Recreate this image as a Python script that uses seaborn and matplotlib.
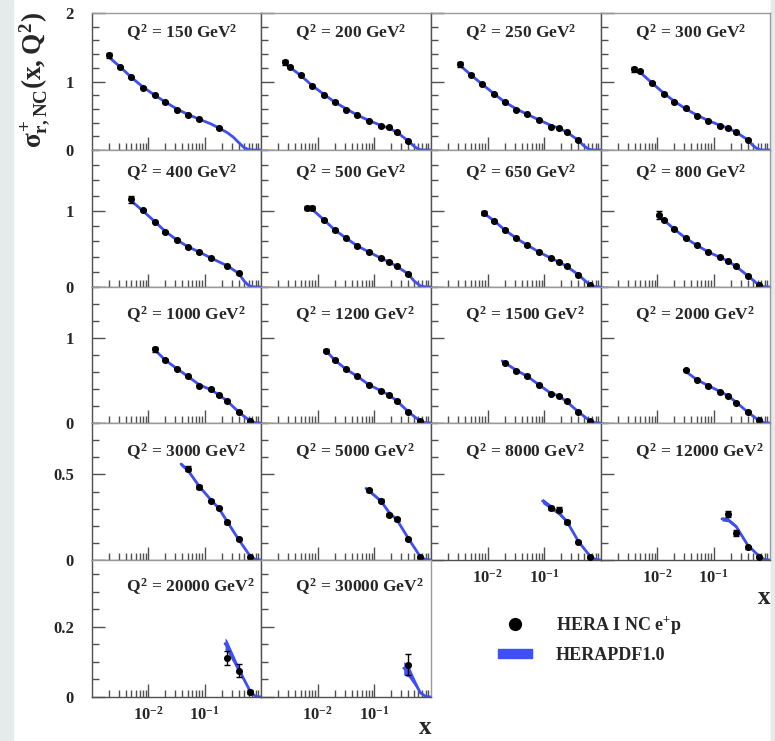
import numpy as np
import matplotlib
matplotlib.use("Agg")
import matplotlib.pyplot as plt
from matplotlib.ticker import FixedLocator, LogLocator, MultipleLocator, NullFormatter, FuncFormatter
from matplotlib.lines import Line2D
from matplotlib.patches import Patch, Rectangle
import seaborn as sns

# ---- data (one entry per panel) ----
q2_values = [150, 200, 250, 300, 400, 500, 650, 800, 1000, 1200, 1500, 2000,
             3000, 5000, 8000, 12000, 20000, 30000]

x_data = [
    [0.002, 0.0032, 0.005, 0.008, 0.013, 0.02, 0.032, 0.05, 0.08, 0.18],
    [0.0026, 0.0032, 0.005, 0.008, 0.013, 0.02, 0.032, 0.05, 0.08, 0.13, 0.18, 0.25, 0.40],
    [0.0032, 0.005, 0.008, 0.013, 0.02, 0.032, 0.05, 0.08, 0.13, 0.18, 0.25, 0.40],
    [0.0039, 0.0049, 0.008, 0.013, 0.02, 0.032, 0.05, 0.08, 0.13, 0.18, 0.25, 0.40],
    [0.005, 0.008, 0.013, 0.02, 0.032, 0.05, 0.08, 0.13, 0.25, 0.40],
    [0.0066, 0.008, 0.013, 0.02, 0.032, 0.05, 0.08, 0.13, 0.18, 0.25, 0.40],
    [0.0085, 0.013, 0.02, 0.032, 0.05, 0.08, 0.13, 0.18, 0.25, 0.40, 0.65],
    [0.0105, 0.013, 0.02, 0.032, 0.05, 0.08, 0.13, 0.18, 0.25, 0.40, 0.65],
    [0.013, 0.02, 0.032, 0.05, 0.08, 0.13, 0.18, 0.25, 0.40, 0.65],
    [0.014, 0.02, 0.032, 0.05, 0.08, 0.13, 0.18, 0.25, 0.40, 0.65],
    [0.02, 0.032, 0.05, 0.08, 0.13, 0.18, 0.25, 0.40, 0.65],
    [0.032, 0.05, 0.08, 0.13, 0.18, 0.25, 0.40, 0.65],
    [0.05, 0.08, 0.13, 0.18, 0.25, 0.40, 0.65],
    [0.08, 0.13, 0.18, 0.25, 0.40, 0.65],
    [0.13, 0.18, 0.25, 0.40, 0.65],
    [0.18, 0.25, 0.40, 0.65],
    [0.25, 0.40, 0.65],
    [0.40],
]

sigma_data = [
    [1.38, 1.21, 1.06, 0.91, 0.81, 0.70, 0.59, 0.51, 0.45, 0.32],
    [1.28, 1.21, 1.10, 0.94, 0.80, 0.70, 0.59, 0.51, 0.43, 0.35, 0.33, 0.26, 0.13],
    [1.25, 1.10, 0.96, 0.82, 0.70, 0.59, 0.52, 0.44, 0.34, 0.32, 0.26, 0.14],
    [1.18, 1.15, 0.98, 0.82, 0.70, 0.61, 0.50, 0.43, 0.35, 0.32, 0.26, 0.15],
    [1.15, 1.01, 0.86, 0.72, 0.62, 0.52, 0.46, 0.38, 0.28, 0.18],
    [1.04, 1.04, 0.88, 0.75, 0.64, 0.54, 0.46, 0.38, 0.33, 0.27, 0.17],
    [0.97, 0.87, 0.75, 0.64, 0.55, 0.46, 0.38, 0.33, 0.27, 0.16, 0.02],
    [0.95, 0.88, 0.76, 0.64, 0.55, 0.46, 0.40, 0.34, 0.27, 0.15, 0.02],
    [0.87, 0.74, 0.64, 0.55, 0.44, 0.40, 0.33, 0.26, 0.13, 0.02],
    [0.85, 0.74, 0.63, 0.55, 0.45, 0.38, 0.33, 0.26, 0.13, 0.02],
    [0.71, 0.61, 0.55, 0.45, 0.345, 0.32, 0.255, 0.13, 0.02],
    [0.62, 0.51, 0.435, 0.37, 0.32, 0.24, 0.13, 0.03],
    [0.533, 0.427, 0.345, 0.304, 0.22, 0.124, 0.02],
    [0.406, 0.347, 0.265, 0.237, 0.124, 0.016],
    [0.304, 0.294, 0.22, 0.104, 0.02],
    [0.269, 0.157, 0.075, 0.02],
    [0.111, 0.075, 0.015],
    [0.092],
]

sigma_err = [
    [0.04, 0.015, 0.01, 0.01, 0.01, 0.01, 0.008, 0.008, 0.008, 0.01],
    [0.04, 0.02, 0.012, 0.01, 0.01, 0.01, 0.008, 0.008, 0.008, 0.008, 0.008, 0.008, 0.008],
    [0.035, 0.012, 0.01, 0.01, 0.01, 0.008, 0.008, 0.008, 0.008, 0.008, 0.008, 0.008],
    [0.035, 0.015, 0.01, 0.01, 0.01, 0.008, 0.008, 0.008, 0.008, 0.008, 0.008, 0.008],
    [0.04, 0.012, 0.01, 0.01, 0.01, 0.008, 0.008, 0.008, 0.008, 0.008],
    [0.03, 0.03, 0.01, 0.01, 0.01, 0.008, 0.008, 0.008, 0.008, 0.008, 0.008],
    [0.025, 0.01, 0.01, 0.01, 0.008, 0.008, 0.008, 0.008, 0.008, 0.008, 0.005],
    [0.05, 0.015, 0.01, 0.01, 0.008, 0.008, 0.008, 0.008, 0.008, 0.008, 0.005],
    [0.03, 0.01, 0.01, 0.01, 0.008, 0.008, 0.008, 0.008, 0.008, 0.005],
    [0.015, 0.01, 0.01, 0.01, 0.008, 0.008, 0.008, 0.008, 0.008, 0.005],
    [0.012, 0.01, 0.01, 0.008, 0.008, 0.008, 0.008, 0.008, 0.005],
    [0.01, 0.008, 0.008, 0.008, 0.008, 0.008, 0.008, 0.005],
    [0.014, 0.012, 0.008, 0.008, 0.008, 0.006, 0.004],
    [0.01, 0.01, 0.008, 0.008, 0.006, 0.004],
    [0.012, 0.014, 0.012, 0.006, 0.004],
    [0.02, 0.016, 0.008, 0.004],
    [0.02, 0.018, 0.006],
    [0.03],
]

x_theory = [
    [0.0019, 0.0032, 0.005, 0.008, 0.013, 0.02, 0.032, 0.05, 0.08, 0.13, 0.18, 0.25, 0.32, 0.40, 0.50, 0.60, 0.70, 1.0],
    [0.0026, 0.0032, 0.005, 0.008, 0.013, 0.02, 0.032, 0.05, 0.08, 0.13, 0.18, 0.25, 0.40, 0.50, 0.60, 0.70, 1.0],
    [0.0032, 0.005, 0.008, 0.013, 0.02, 0.032, 0.05, 0.08, 0.13, 0.18, 0.25, 0.40, 0.50, 0.60, 0.70, 1.0],
    [0.0038, 0.005, 0.008, 0.013, 0.02, 0.032, 0.05, 0.08, 0.13, 0.18, 0.25, 0.40, 0.50, 0.60, 0.70, 1.0],
    [0.005, 0.008, 0.013, 0.02, 0.032, 0.05, 0.08, 0.13, 0.18, 0.25, 0.40, 0.50, 0.60, 0.70, 1.0],
    [0.0066, 0.008, 0.013, 0.02, 0.032, 0.05, 0.08, 0.13, 0.18, 0.25, 0.40, 0.50, 0.65, 0.80, 1.0],
    [0.0085, 0.013, 0.02, 0.032, 0.05, 0.08, 0.13, 0.18, 0.25, 0.40, 0.65, 0.80, 1.0],
    [0.0105, 0.013, 0.02, 0.032, 0.05, 0.08, 0.13, 0.18, 0.25, 0.40, 0.65, 0.80, 1.0],
    [0.013, 0.02, 0.032, 0.05, 0.08, 0.13, 0.18, 0.25, 0.40, 0.65, 0.80, 1.0],
    [0.014, 0.02, 0.032, 0.05, 0.08, 0.13, 0.18, 0.25, 0.40, 0.65, 0.80, 1.0],
    [0.018, 0.032, 0.05, 0.08, 0.13, 0.18, 0.25, 0.40, 0.65, 0.80, 1.0],
    [0.03, 0.05, 0.08, 0.13, 0.18, 0.25, 0.40, 0.65, 0.80, 1.0],
    [0.038, 0.05, 0.08, 0.13, 0.18, 0.25, 0.40, 0.65, 0.80, 1.0],
    [0.071, 0.08, 0.13, 0.18, 0.25, 0.40, 0.65, 0.80, 1.0],
    [0.093, 0.13, 0.18, 0.25, 0.40, 0.65, 0.80, 1.0],
    [0.14, 0.18, 0.25, 0.40, 0.65, 0.80, 1.0],
    [0.23, 0.25, 0.40, 0.65, 0.80, 1.0],
    [0.33, 0.40, 0.65, 0.80, 1.0],
]

sigma_theory = [
    [1.37, 1.21, 1.06, 0.92, 0.80, 0.70, 0.60, 0.52, 0.45, 0.38, 0.32, 0.255, 0.19, 0.11, 0.035, 0.008, 0.0, 0.0],
    [1.27, 1.21, 1.09, 0.94, 0.81, 0.70, 0.60, 0.51, 0.43, 0.36, 0.32, 0.26, 0.13, 0.055, 0.012, 0.0, 0.0],
    [1.24, 1.10, 0.96, 0.82, 0.70, 0.60, 0.52, 0.44, 0.36, 0.32, 0.26, 0.14, 0.06, 0.015, 0.0, 0.0],
    [1.18, 1.13, 0.98, 0.83, 0.71, 0.60, 0.51, 0.43, 0.36, 0.32, 0.26, 0.15, 0.065, 0.015, 0.0, 0.0],
    [1.13, 1.00, 0.86, 0.73, 0.62, 0.53, 0.46, 0.38, 0.33, 0.28, 0.18, 0.08, 0.02, 0.003, 0.0],
    [1.04, 1.02, 0.88, 0.75, 0.64, 0.54, 0.46, 0.38, 0.33, 0.27, 0.17, 0.08, 0.015, 0.002, 0.0],
    [0.97, 0.87, 0.75, 0.64, 0.55, 0.46, 0.38, 0.33, 0.27, 0.16, 0.02, 0.003, 0.0],
    [0.93, 0.88, 0.76, 0.64, 0.55, 0.46, 0.39, 0.34, 0.27, 0.15, 0.02, 0.003, 0.0],
    [0.86, 0.74, 0.64, 0.55, 0.45, 0.39, 0.33, 0.26, 0.13, 0.02, 0.003, 0.0],
    [0.85, 0.74, 0.63, 0.55, 0.45, 0.38, 0.33, 0.26, 0.13, 0.02, 0.003, 0.0],
    [0.73, 0.62, 0.55, 0.45, 0.35, 0.32, 0.25, 0.13, 0.02, 0.003, 0.0],
    [0.62, 0.51, 0.44, 0.37, 0.32, 0.245, 0.13, 0.025, 0.003, 0.0],
    [0.56, 0.525, 0.43, 0.35, 0.30, 0.225, 0.12, 0.02, 0.003, 0.0],
    [0.418, 0.405, 0.345, 0.28, 0.235, 0.125, 0.018, 0.003, 0.0],
    [0.345, 0.31, 0.275, 0.225, 0.108, 0.02, 0.003, 0.0],
    [0.24, 0.235, 0.196, 0.088, 0.02, 0.003, 0.0],
    [0.152, 0.145, 0.079, 0.015, 0.002, 0.0],
    [0.082, 0.074, 0.012, 0.002, 0.0],
]

# relative half-width of the HERAPDF1.0 band per panel
band_rel = [0.012, 0.012, 0.012, 0.012, 0.012, 0.012, 0.012, 0.012, 0.015, 0.015, 0.015, 0.015,
            0.02, 0.025, 0.045, 0.05, 0.11, 0.23]

row_ymax = [2.0, 1.8, 1.6, 0.8, 0.39]
row_major = [1.0, 1.0, 1.0, 0.5, 0.2]
row_minor = [0.2, 0.2, 0.2, 0.1, 0.05]

# ---- layout (pixels of the 775x741 reference) ----
W, H = 775, 741
col_left = [92, 261, 431, 601]
col_width = [169, 170, 170, 169]
row_top = [13, 150, 287, 423, 560]
row_height = [137, 137, 136, 137, 137]
title_off = [20, 23, 28, 29, 27]
bottom_label_panels = {14, 15, 16, 17}

BLUE = "#3f4ff2"
FRAME_DARK = "#505050"
FRAME_LIGHT = "#9a9a9a"

sns.set_theme(style="ticks")
plt.rcParams["font.family"] = ["Liberation Serif", "DejaVu Serif"]
plt.rcParams["font.weight"] = "bold"
plt.rcParams["mathtext.fontset"] = "custom"
plt.rcParams["mathtext.rm"] = "Liberation Serif:bold"
plt.rcParams["mathtext.it"] = "Liberation Serif:bold"
plt.rcParams["mathtext.bf"] = "Liberation Serif:bold"

fig = plt.figure(figsize=(W / 100, H / 100), dpi=100)
fig.patch.set_facecolor("white")

# faint slide background at the edges
fig.add_artist(Rectangle((0, 0), 13 / W, 1, transform=fig.transFigure,
                         color="#e4ebea", zorder=-10))
fig.add_artist(Rectangle((771 / W, 0), 4 / W, 1, transform=fig.transFigure,
                         color="#e4ebea", zorder=-10))

for i, q2 in enumerate(q2_values):
    row, col = divmod(i, 4)
    l, t = col_left[col], row_top[row]
    w, h = col_width[col], row_height[row]
    ax = fig.add_axes([l / W, 1 - (t + h) / H, w / W, h / H])
    ax.set_facecolor("white")
    ax.set_xscale("log")

    xt = np.array(x_theory[i])
    yt = np.array(sigma_theory[i])
    ax.fill_between(xt, yt * (1 - band_rel[i]), yt * (1 + band_rel[i]),
                    color=BLUE, linewidth=0, zorder=2)
    sns.lineplot(x=xt, y=yt, ax=ax, color=BLUE, linewidth=2.0,
                 estimator=None, sort=False, zorder=2)

    ax.errorbar(x_data[i], sigma_data[i], yerr=sigma_err[i], fmt="none",
                ecolor="black", elinewidth=1.0, capsize=2.5, capthick=1.0, zorder=3)
    sns.scatterplot(x=x_data[i], y=sigma_data[i], ax=ax, color="black",
                    s=26, linewidth=0, zorder=4)

    ax.set_xlim(1e-3, 1)
    ax.set_ylim(0, row_ymax[row])
    ax.xaxis.set_major_locator(FixedLocator([1e-2, 1e-1]))
    ax.xaxis.set_minor_locator(LogLocator(base=10, subs=np.arange(2, 10), numticks=30))
    ax.xaxis.set_minor_formatter(NullFormatter())
    ax.set_xticklabels([r"$10^{-2}$", r"$10^{-1}$"])
    ax.yaxis.set_major_locator(MultipleLocator(row_major[row]))
    ax.yaxis.set_minor_locator(MultipleLocator(row_minor[row]))
    ax.yaxis.set_major_formatter(FuncFormatter(lambda v, p: f"{v:g}"))
    ax.set_xlabel("")
    ax.set_ylabel("")

    ax.tick_params(which="both", direction="in", color=FRAME_DARK, width=1.0,
                   top=False, right=False)
    ax.tick_params(which="major", length=9.5)
    ax.tick_params(which="minor", length=4.7)
    ax.tick_params(axis="y", which="major", pad=13, labelsize=12)
    ax.tick_params(axis="x", which="major", pad=6, labelsize=12)
    ax.tick_params(axis="y", labelleft=(col == 0))
    ax.tick_params(axis="x", labelbottom=(i in bottom_label_panels))

    for side in ("left", "bottom"):
        ax.spines[side].set_color(FRAME_DARK)
        ax.spines[side].set_linewidth(1.0)
    for side in ("top", "right"):
        ax.spines[side].set_color(FRAME_LIGHT)
        ax.spines[side].set_linewidth(1.0)
    for lab in ax.get_xticklabels() + ax.get_yticklabels():
        lab.set_fontweight("bold")

    ax.text(0.2, 1 - title_off[row] / h, rf"$Q^{{2}}$ = {q2} GeV$^{{2}}$",
            transform=ax.transAxes, ha="left", va="center",
            fontsize=12.5, fontweight="bold")

# axis titles
fig.text(35 / W, 1 - 80 / H, r"$\sigma^{+}_{r,NC}(x,Q^{2})$", rotation=90,
         ha="center", va="center", fontsize=19.5)
fig.text(770 / W, 1 - 597 / H, "x", ha="right", va="center", fontsize=18, fontweight="bold")
fig.text(431 / W, 1 - 728 / H, "x", ha="right", va="center", fontsize=18, fontweight="bold")

# legend
handles = [Line2D([], [], marker="o", color="black", linestyle="none", markersize=8.5),
           Patch(facecolor=BLUE, edgecolor=BLUE)]
labels = [r"HERA I NC e$^{+}$p", "HERAPDF1.0"]
fig.legend(handles, labels, loc="upper left", bbox_to_anchor=(498 / W, 1 - 614 / H),
           frameon=False, prop={"family": "Liberation Serif", "weight": "bold", "size": 13},
           handlelength=1.9, handleheight=0.45, handletextpad=1.3, labelspacing=0.6,
           borderpad=0, borderaxespad=0)

fig.savefig("out.png", dpi=100)
